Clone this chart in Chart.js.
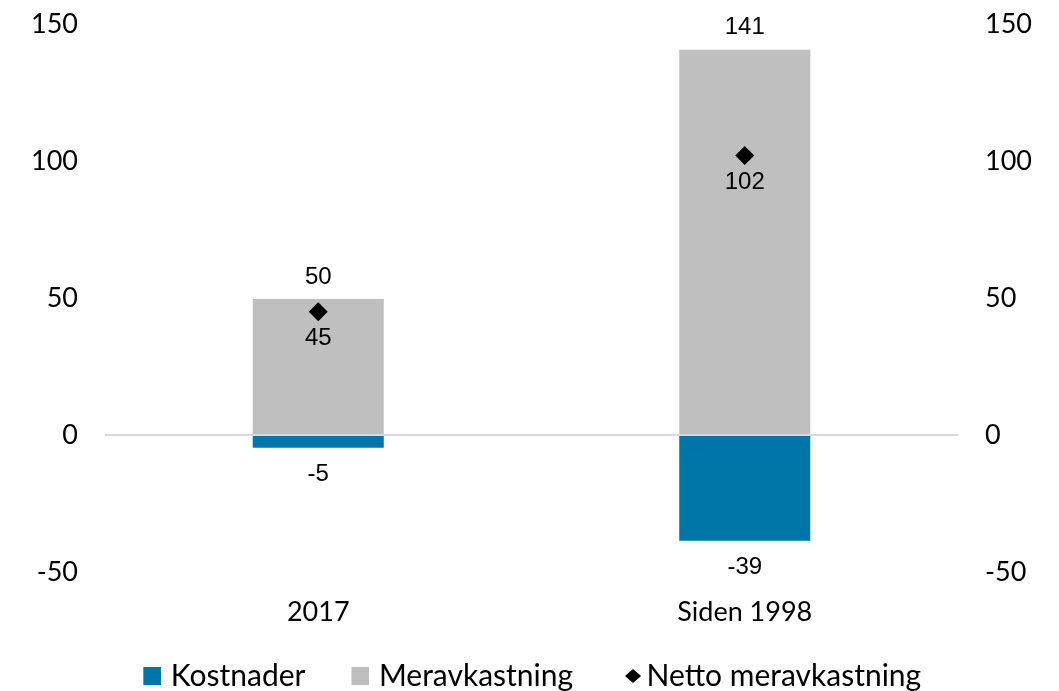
<!DOCTYPE html>
<html>
<head>
<meta charset="utf-8">
<script src="https://cdn.jsdelivr.net/npm/chart.js@4.4.1/dist/chart.umd.min.js"></script>
<style>
  html, body { margin: 0; padding: 0; background: #fff; }
  #wrap { width: 1059px; height: 691px; }
</style>
</head>
<body>
<div id="wrap"><canvas id="chart"></canvas></div>
<script>
// kategorier og verdier (prosentpoeng)
const categories = ['2017', 'Siden 1998'];
const kostnader = [-5, -39];
const meravkastning = [50, 141];
const netto = [45, 102];
const yTicks = [-50, 0, 50, 100, 150];

const BLUE = '#0076A8';
const GREY = '#BFBFBF';

// små bilder til legenden (figuren ligger i høyre kant av bildet)
function legendBox(color, w, h, size) {
    const c = document.createElement('canvas');
    c.width = w; c.height = h;
    const g = c.getContext('2d');
    g.fillStyle = color;
    g.fillRect(w - size, (h - size) / 2, size, size);
    return c;
}
function legendDiamond(color, w, h, dw, dh) {
    const c = document.createElement('canvas');
    c.width = w; c.height = h;
    const g = c.getContext('2d');
    const x0 = w - dw, y0 = (h - dh) / 2;
    g.fillStyle = color;
    g.beginPath();
    g.moveTo(x0 + dw / 2, y0); g.lineTo(x0 + dw, y0 + dh / 2);
    g.lineTo(x0 + dw / 2, y0 + dh); g.lineTo(x0, y0 + dh / 2);
    g.closePath();
    g.fill();
    return c;
}
const legendIcons = [legendBox(BLUE, 29, 18, 18), legendBox(GREY, 29, 18, 18), legendDiamond('#000', 37, 16, 16, 14)];
const legendGap = ['     ', '     ', ''];

// tall over/under søylene
const valueLabels = {
    id: 'valueLabels',
    afterDatasetsDraw(chart) {
        const ctx = chart.ctx;
        ctx.save();
        ctx.font = '24px "Liberation Sans", Arial, sans-serif';
        ctx.fillStyle = '#000';
        ctx.textAlign = 'center';
        ctx.textBaseline = 'middle';
        chart.data.datasets.forEach((ds, i) => {
            const meta = chart.getDatasetMeta(i);
            meta.data.forEach((el, j) => {
                const v = ds.data[j];
                let y;
                if (i === 0) y = el.y + 26;
                else if (i === 1) y = el.y - 21;
                else y = el.y + 27;
                ctx.fillText(String(v), el.x, y);
            });
        });
        ctx.restore();
    }
};

function yFit(width) {
    return s => { s.width = width; s.paddingTop = 0; s.paddingBottom = 0; };
}

const ctx = document.getElementById('chart').getContext('2d');
const chart = new Chart(ctx, {
    data: {
        labels: categories,
        datasets: [{
            type: 'bar',
            label: 'Kostnader',
            data: kostnader,
            backgroundColor: BLUE,
            borderColor: 'rgba(255,255,255,0.5)',
            borderWidth: 1,
            stack: 'bars',
            yAxisID: 'y',
            order: 2
        },
        {
            type: 'bar',
            label: 'Meravkastning',
            data: meravkastning,
            backgroundColor: GREY,
            borderColor: 'rgba(255,255,255,0.6)',
            borderWidth: 1,
            stack: 'bars',
            yAxisID: 'y',
            order: 2
        },
        {
            type: 'line',
            label: 'Netto meravkastning',
            data: netto,
            showLine: false,
            pointStyle: 'rectRot',
            pointRadius: 9.5,
            pointHoverRadius: 9.5,
            backgroundColor: '#000',
            borderColor: '#000',
            borderWidth: 0,
            stack: 'netto',
            yAxisID: 'y',
            order: 1
        }]
    },
    options: {
        responsive: true,
        maintainAspectRatio: false,
        animation: false,
        datasets: {
            bar: { categoryPercentage: 1, barPercentage: 0.312 }
        },
        layout: { padding: { top: 24, bottom: -10, left: 0, right: 0 } },
        plugins: {
            tooltip: { enabled: false },
            legend: {
                position: 'bottom',
                labels: {
                    usePointStyle: true,
                    color: '#000',
                    font: { family: 'Lato', size: 30, lineHeight: 1 },
                    padding: 2,
                    boxWidth: 18,
                    boxHeight: 18,
                    sort: (a, b) => a.datasetIndex - b.datasetIndex,
                    generateLabels(chart) {
                        const items = Chart.defaults.plugins.legend.labels.generateLabels(chart);
                        items.forEach(it => {
                            it.pointStyle = legendIcons[it.datasetIndex];
                            it.text = it.text + legendGap[it.datasetIndex];
                        });
                        return items;
                    }
                }
            }
        },
        scales: {
            x: {
                stacked: true,
                grid: { display: false, drawTicks: false },
                border: { display: false },
                ticks: { color: '#000', font: { family: 'Lato', size: 27 }, padding: 24 },
                afterFit(s) { s.height = 87; }
            },
            y: {
                stacked: true,
                position: 'left',
                min: -50,
                max: 150,
                afterBuildTicks(s) { s.ticks = yTicks.map(v => ({ value: v })); },
                grid: {
                    drawTicks: false,
                    lineWidth: 2,
                    color: c => (c.tick && c.tick.value === 0) ? '#D9D9D9' : 'rgba(0,0,0,0)'
                },
                border: { display: false },
                ticks: { color: '#000', font: { family: 'Lato', size: 27 }, padding: 27 },
                afterFit: yFit(105)
            },
            y2: {
                position: 'right',
                min: -50,
                max: 150,
                afterBuildTicks(s) { s.ticks = yTicks.map(v => ({ value: v })); },
                grid: { display: false, drawTicks: false },
                border: { display: false },
                ticks: { color: '#000', font: { family: 'Lato', size: 27 }, padding: 27 },
                afterFit: yFit(101)
            }
        }
    },
    plugins: [valueLabels]
});
</script>
</body>
</html>
